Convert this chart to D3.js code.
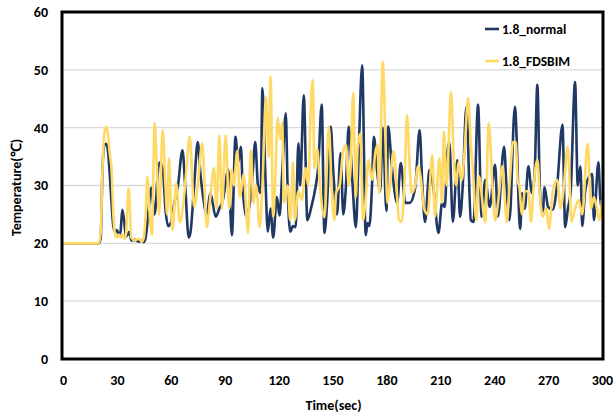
<!DOCTYPE html>
<html>
<head>
<meta charset="utf-8">
<script src="https://cdn.jsdelivr.net/npm/d3@7"></script>
<style>
  html, body { margin: 0; padding: 0; background: #fff; }
  svg text { font-family: Calibri, Carlito, "Liberation Sans", Arial, sans-serif; font-weight: bold; fill: #000; }
</style>
</head>
<body>
<svg id="chart" width="613" height="416"></svg>
<script>
const seriesNames = ["1.8_normal", "1.8_FDSBIM"];
const xTicks = [0, 30, 60, 90, 120, 150, 180, 210, 240, 270, 300];
const yTicks = [0, 10, 20, 30, 40, 50, 60];

const normalTime = [0,20,21,22,23,24,25,26,27,28,29,30,31,32,33,34,35,36,37,38,40,42,44,45,46,48,49,51,53,54,55.6,57,58.5,60,62,64,66.5,68,70,71,73,75,76.5,78,80,82,85,87,89,92,94,96,97.5,99,100,102,104,105.5,107,108.5,110,111,112.5,114,115.5,117,119,120.5,122,124,125,126.5,128,129.5,131,132,134,136,138,140.5,142,144,145.5,147,149,150.5,152.5,154.5,156,157.5,159,161,163,164.5,166.5,168.5,169.5,170.5,172,173,175,176.5,178,180,181,183,186,188,190.5,193,196,198.5,200,201.5,204,206,209,211,212.5,214,215,217,219.5,221,222.5,224.5,227,228.5,231,233,235,237.5,240.5,242,245.5,247,248.5,251.5,254.5,255.5,257,259,261,262.5,264,265.5,267,268,270,272.5,275,278,279.5,281,282.5,285,286.5,288,289,290.5,292,294.5,295.5,298,299,300];
const normalTemp = [20,20,21,33,37,37.2,36,32,27,23,22,22.3,21.5,22,25.8,24,21.2,21.5,22,20.5,20.6,20.3,20.5,20.2,21,27,29.6,25,33,34,32.7,26,23,23.5,27,30,36.1,30,21,22,30,37.5,32,28,25,28.7,24.6,26,27.5,32.7,21.4,38.4,34,36.7,29.7,24.6,27,32,37.5,30,28.7,46.8,33,22,26,21,28,24.8,32,42.5,30,22,23,22.8,37.3,30,45.6,24,26,29.6,33,44,21.8,27,40.2,32,25,35.6,25,30,40.2,31,22.8,35,50.8,21.4,23.5,23,30,38.4,32,29,40,25.6,40.2,33.3,27,33.9,27,27,29.6,39.6,30,23.7,32.7,30,21.8,27,26.3,35.8,37.5,23.7,34.4,24.6,30,43.6,24,23.7,44,24.6,31,26.3,33.6,24.6,36.7,28.7,24,43.6,22.5,28.7,26,33.3,28.7,32,47.4,28.7,25,29.7,26.3,25.8,30,40.5,22.8,26,28.7,47.9,30,33.3,23,28.7,31,32,24,34,28,26];

const fdsTime = [0,20,21,22,23,24,25,26,27,28,29,30,31,32,33,34,35,36.5,37.5,38,40,42,44,45,46,47,48,49.5,51,52,53.5,55.5,57,58,59,60,61,63,65,67,68.5,70.5,73,75,77.5,80,82,84,85.5,87,88.5,90.5,92.5,94,95,97,98.5,100.5,103,104.5,106,107.5,109.5,111,113,114.5,115.5,117,118,119.5,121,122,123,125,126.5,128,129,131,133,135,136.5,138,139,140,141.5,143,145.5,148,149.5,151,152,154,156,157.5,159,160,161.5,163,164,165.5,167,168.5,170,172,174,175,176,178,179.5,180.5,182,184,186,187,188.5,190,191.5,193,194,196,197.5,199,201,203,205.5,207,209.5,211,212,213.5,216,217.5,219,220,222,223.5,225.5,227,228,230,231.5,235,237,239,240.5,242.5,244.5,247,248.5,250.5,252,253,254,255.5,257,259,260.5,262,264,265.5,267,269,270.5,272.5,275,277,278.5,281,283,285,287,289,292,294,295.5,297,298.5,300];
const fdsTemp = [20,20,22,33,39,40.2,39,35.5,33,25,21.5,21,21.5,21,21.5,20.8,21.5,29.5,24,21,20.5,20.8,20.3,21,25,31.5,26,21.5,40.8,35,25,39.6,30,25,34.7,27,22.3,30.4,23.7,27,32,38.4,26.3,30,37.3,22.8,28,33,26,38.7,26,38.7,26,32.7,30,36,28,32,21.8,36.1,27,30,22.8,30,45.3,35,48.8,24.6,30,41.7,38,40.8,27,30,24,34,24,29,27.5,33,30,44.2,48.2,33,36.3,30,24.5,40.2,29.6,24,28.7,30,36.1,37,30,32.7,46,28,36.7,39,24,28,34.4,31,36,37,28.7,51.4,37.5,27,30,36,28,24,23.7,30,42.2,33,28.7,30,33.3,31.6,26,25,35.3,24.6,34.7,27,39.3,30,46.2,34.7,30,34,31,36,45.1,37,33.3,24,31.6,23.7,40.8,30,24,28,33.3,23.7,30,37.5,37.5,31,29.7,25,29,29,23.7,30,34.4,28,24.6,26,22.5,28.7,31,26,29,36.7,23.7,26,27.5,25,37.3,26,28,26.3,24,27.5];

const colors = ["#1F3864", "#FFD966"];

const svg = d3.select("#chart");
const mLeft = 63, mRight = 602, mTop = 12, mBottom = 359;
const x = d3.scaleLinear().domain([0, 300]).range([mLeft, mRight]);
const y = d3.scaleLinear().domain([0, 60]).range([mBottom, mTop]);

// gridlines
svg.append("g").selectAll("line").data(yTicks.filter(d => d > 0 && d < 60)).join("line")
  .attr("x1", mLeft).attr("x2", mRight)
  .attr("y1", d => y(d)).attr("y2", d => y(d))
  .attr("stroke", "#d9d9d9").attr("stroke-width", 1.3);

// series
const toPts = (ts, vs) => ts.map((t, i) => [t, vs[i]]);
const line = d3.line().x(d => x(d[0])).y(d => y(d[1])).curve(d3.curveMonotoneX);
const series = [toPts(normalTime, normalTemp), toPts(fdsTime, fdsTemp)];
svg.append("g").selectAll("path").data(series).join("path")
  .attr("d", line)
  .attr("fill", "none")
  .attr("stroke", (d, i) => colors[i])
  .attr("stroke-width", 2.6)
  .attr("stroke-linejoin", "round");

// frame
svg.append("rect").attr("x", mLeft - 1).attr("y", mTop).attr("width", mRight - mLeft + 2).attr("height", mBottom - mTop)
  .attr("fill", "none").attr("stroke", "#000").attr("stroke-width", 3);

// axes
const fontFam = "Calibri, Carlito, 'Liberation Sans', Arial, sans-serif";
const xAxis = d3.axisBottom(x).tickValues(xTicks).tickSize(0).tickPadding(16);
svg.append("g").attr("transform", `translate(0,${mBottom})`).call(xAxis)
  .call(g => g.select(".domain").remove())
  .call(g => g.selectAll("text").style("font-size", "14px").style("font-family", fontFam).style("font-weight", "bold").attr("fill", "#000"));

const yAxis = d3.axisLeft(y).tickValues(yTicks).tickSize(0).tickPadding(15);
svg.append("g").attr("transform", `translate(${mLeft},0)`).call(yAxis)
  .call(g => g.select(".domain").remove())
  .call(g => g.selectAll("text").style("font-size", "14px").style("font-family", fontFam).style("font-weight", "bold").attr("fill", "#000"));

// axis titles
svg.append("text").attr("x", (mLeft + mRight) / 2 + 1).attr("y", 410)
  .attr("text-anchor", "middle").style("font-size", "14px").text("Time(sec)");
svg.append("text").attr("transform", `translate(21,${(mTop + mBottom) / 2 + 2}) rotate(-90)`)
  .attr("text-anchor", "middle").style("font-size", "14px").text("Temperature(℃)");

// legend
const lg = svg.append("g").selectAll("g").data(seriesNames).join("g")
  .attr("transform", (d, i) => `translate(485,${29 + i * 32})`);
lg.append("line").attr("x1", 0).attr("x2", 14).attr("y1", 0).attr("y2", 0)
  .attr("stroke", (d, i) => colors[i]).attr("stroke-width", 2.6);
lg.append("text").attr("x", 17).attr("y", 0).attr("dy", "0.35em")
  .style("font-size", "13.5px").text(d => d);
</script>
</body>
</html>
